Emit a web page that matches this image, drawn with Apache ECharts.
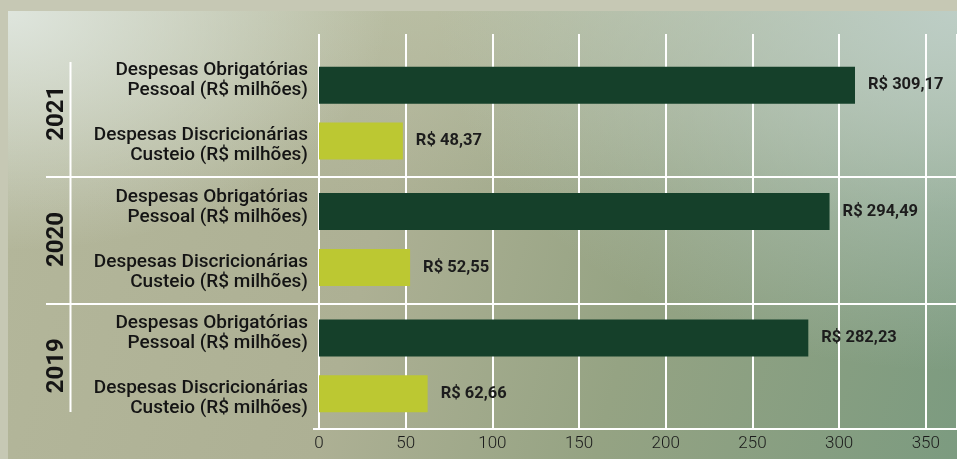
<!DOCTYPE html>
<html>
<head>
<meta charset="utf-8">
<script src="https://cdn.jsdelivr.net/npm/echarts@6/dist/echarts.min.js"></script>
<style>
  html, body { margin: 0; padding: 0; width: 957px; height: 459px; overflow: hidden; background: #c6c8b4; }
  #panel {
    position: absolute; left: 8px; top: 11px; width: 949px; height: 448px;
    background:
      radial-gradient(ellipse 380px 240px at 0px 0px, rgba(224,231,224,0.95) 0%, rgba(224,231,224,0) 100%),
      radial-gradient(ellipse 520px 360px at 949px 0px, rgba(190,207,200,0.95) 0%, rgba(190,207,200,0) 100%),
      linear-gradient(to bottom, rgba(192,198,172,0.6) 0%, rgba(192,198,172,0) 45%),
      linear-gradient(105deg, #b4b79b 0%, #adb094 40%, #95a383 66%, #7c9b80 100%);
  }
  #chart { position: absolute; left: 0; top: 0; width: 957px; height: 459px; }
</style>
</head>
<body>
<div id="panel"></div>
<div id="chart"></div>
<script>
// Years shown on the vertical axis (top to bottom)
const years = ['2021', '2020', '2019'];
// Mandatory personnel spending, R$ millions
const pessoal = [309.17, 294.49, 282.23];
// Discretionary running costs, R$ millions
const custeio = [48.37, 52.55, 62.66];
// Row captions for each pair of bars
const pessoalCaption = ['Despesas Obrigatórias', 'Pessoal (R$ milhões)'];
const custeioCaption = ['Despesas Discricionárias', 'Custeio (R$ milhões)'];
// Value axis ticks
const xMin = 0, xMax = 368, xStep = 50;

const FONT = 'Roboto, "Noto Sans", sans-serif';
const WHITE = '#ffffff';

const money = v => 'R$ ' + v.toFixed(2).replace('.', ',');

const chart = echarts.init(document.getElementById('chart'), null, { renderer: 'canvas' });

const valueLabel = {
  show: true,
  position: 'right',
  distance: 13,
  formatter: p => money(p.value),
  fontFamily: FONT,
  fontWeight: 'bold',
  fontSize: 16.5,
  color: '#1c1c1c'
};

const option = {
  backgroundColor: 'transparent',
  animation: false,
  grid: [
    { left: 319, right: -3, top: 50, bottom: 30, containLabel: false },
    { left: 319, right: -3, top: 34, bottom: 30, containLabel: false }
  ],
  xAxis: [
    { type: 'value', gridIndex: 0, min: xMin, max: xMax, interval: xStep, show: false },
    {
      type: 'value', gridIndex: 1, min: xMin, max: xMax, interval: xStep,
      axisLine: { show: true, lineStyle: { color: WHITE, width: 2 } },
      axisTick: { show: false },
      splitLine: { show: true, lineStyle: { color: WHITE, width: 2 } },
      axisLabel: {
        showMaxLabel: false, margin: 6,
        fontFamily: FONT, fontWeight: 300, fontSize: 17, color: '#1a1a1a'
      }
    }
  ],
  yAxis: [
    {
      type: 'category', gridIndex: 0, data: years, inverse: true,
      axisLine: { show: false }, axisTick: { show: false }, splitLine: { show: false },
      axisLabel: {
        margin: 11,
        align: 'right',
        formatter: () =>
          '{t|' + pessoalCaption[0] + '}\n{t|' + pessoalCaption[1] + '}\n{g| }\n{t|' +
          custeioCaption[0] + '}\n{t|' + custeioCaption[1] + '}',
        rich: {
          t: { fontFamily: FONT, fontSize: 19, fontWeight: 500, lineHeight: 20, color: '#141414', align: 'right' },
          g: { fontSize: 10, lineHeight: 25 }
        }
      }
    },
    {
      type: 'category', gridIndex: 0, data: years, inverse: true, position: 'left', offset: 250,
      axisLine: { show: false }, axisTick: { show: false }, splitLine: { show: false },
      axisLabel: {
        rotate: 90, margin: 0,
        fontFamily: FONT, fontWeight: 'bold', fontSize: 24, color: '#141414'
      }
    },
    { type: 'value', gridIndex: 1, show: false, min: 0, max: 1, splitLine: { show: false } }
  ],
  series: [
    {
      name: 'Pessoal', type: 'bar', xAxisIndex: 0, yAxisIndex: 0,
      data: pessoal, barWidth: 37, barGap: '51%',
      itemStyle: { color: '#15402a' },
      label: valueLabel
    },
    {
      name: 'Custeio', type: 'bar', xAxisIndex: 0, yAxisIndex: 0,
      data: custeio, barWidth: 37, barGap: '51%',
      itemStyle: { color: '#bcc832' },
      label: valueLabel
    }
  ]
};

chart.setOption(option);

// Year separators and bracket line, placed from the category axis positions
const centers = years.map(y => chart.convertToPixel({ yAxisIndex: 0 }, y));
const band = centers[1] - centers[0];
const zeroX = chart.convertToPixel({ xAxisIndex: 1 }, 0);
const baseY = chart.convertToPixel({ yAxisIndex: 2 }, 0);
const lineStyle = { stroke: WHITE, lineWidth: 2 };
const graphics = [];
for (let i = 0; i < centers.length - 1; i++) {
  const y = Math.round((centers[i] + centers[i + 1]) / 2) + 1;
  graphics.push({ type: 'line', silent: true, shape: { x1: 46, y1: y, x2: 957, y2: y }, style: lineStyle, z: 5 });
}
graphics.push({
  type: 'line', silent: true,
  shape: { x1: 70.5, y1: centers[0] - band / 2 + 12, x2: 70.5, y2: centers[centers.length - 1] + band / 2 - 17 },
  style: lineStyle, z: 5
});
graphics.push({
  type: 'line', silent: true,
  shape: { x1: zeroX - 6, y1: baseY, x2: zeroX, y2: baseY },
  style: lineStyle, z: 5
});
chart.setOption({ graphic: graphics });
</script>
</body>
</html>
